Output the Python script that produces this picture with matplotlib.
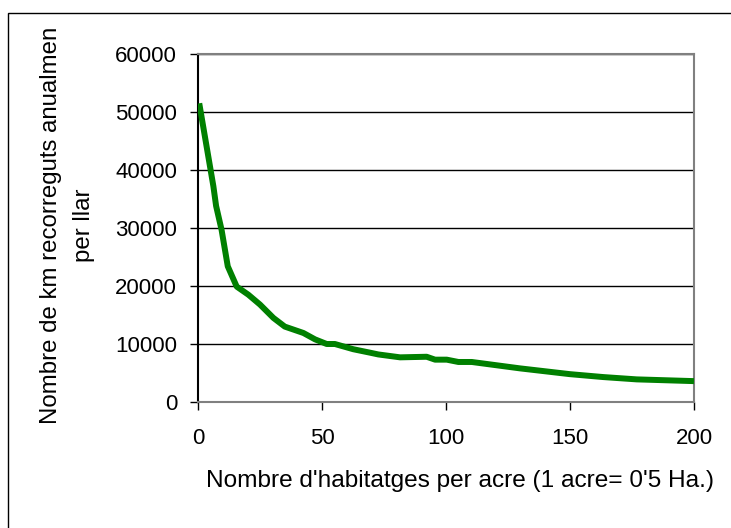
import matplotlib.pyplot as plt
from matplotlib.patches import Rectangle

plt.rcParams['font.family'] = ['Liberation Sans', 'DejaVu Sans']

# habitatges per acre vs km recorreguts per llar
habitatges = [0.5, 6.2, 7.3, 9.5, 12, 15.6, 20.3, 25, 30.4, 35, 42.5, 47.2, 51.9, 55.2,
              62.6, 69.4, 72.7, 81.5, 92.2, 95.6, 100.3, 105, 110.4, 129.8, 150,
              163.4, 176.9, 200]
km_any = [51500, 37200, 33800, 29700, 23400, 19900, 18500, 16800, 14500, 13000, 11900,
          10800, 10000, 10000, 9100, 8500, 8200, 7700, 7800, 7300, 7300, 6900, 6900,
          5800, 4800, 4300, 3900, 3600]

xticks = [0, 50, 100, 150, 200]
yticks = [0, 10000, 20000, 30000, 40000, 50000, 60000]

fig = plt.figure(figsize=(7.31, 5.28), dpi=100)
fig.patches.append(Rectangle((8 / 731, -0.1), 1.2, 1.1 - 13 / 528, transform=fig.transFigure,
                             fill=False, edgecolor='black', linewidth=1.0))

ax = fig.add_axes([198 / 731, 1 - 402 / 528, (694 - 198) / 731, (402 - 54) / 528])
ax.plot(habitatges, km_any, color='#008000', linewidth=4.3, solid_capstyle='butt', zorder=3)

ax.set_xlim(0, 200)
ax.set_ylim(0, 60000)
ax.set_xticks(xticks)
ax.set_yticks(yticks)
ax.tick_params(labelsize=16, length=6, width=1, direction='out')
ax.tick_params(axis='x', pad=13)
ax.tick_params(axis='y', pad=9)
ax.grid(axis='y', color='black', linewidth=1)
ax.set_axisbelow(True)

for side in ['top', 'right', 'bottom']:
    ax.spines[side].set_color('#808080')
    ax.spines[side].set_linewidth(1.5)
ax.spines['left'].set_color('black')
ax.spines['left'].set_linewidth(1.5)

fig.text(67.5 / 731, 1 - 225 / 528, 'Nombre de km recorreguts anualmen\nper llar',
         rotation=90, ha='center', va='center', multialignment='center',
         fontsize=17.3, linespacing=1.7)
fig.text(460 / 731, 1 - 481 / 528, "Nombre d'habitatges per acre (1 acre= 0'5 Ha.)",
         ha='center', va='center', fontsize=17.6)

plt.savefig('out.png', dpi=100)
